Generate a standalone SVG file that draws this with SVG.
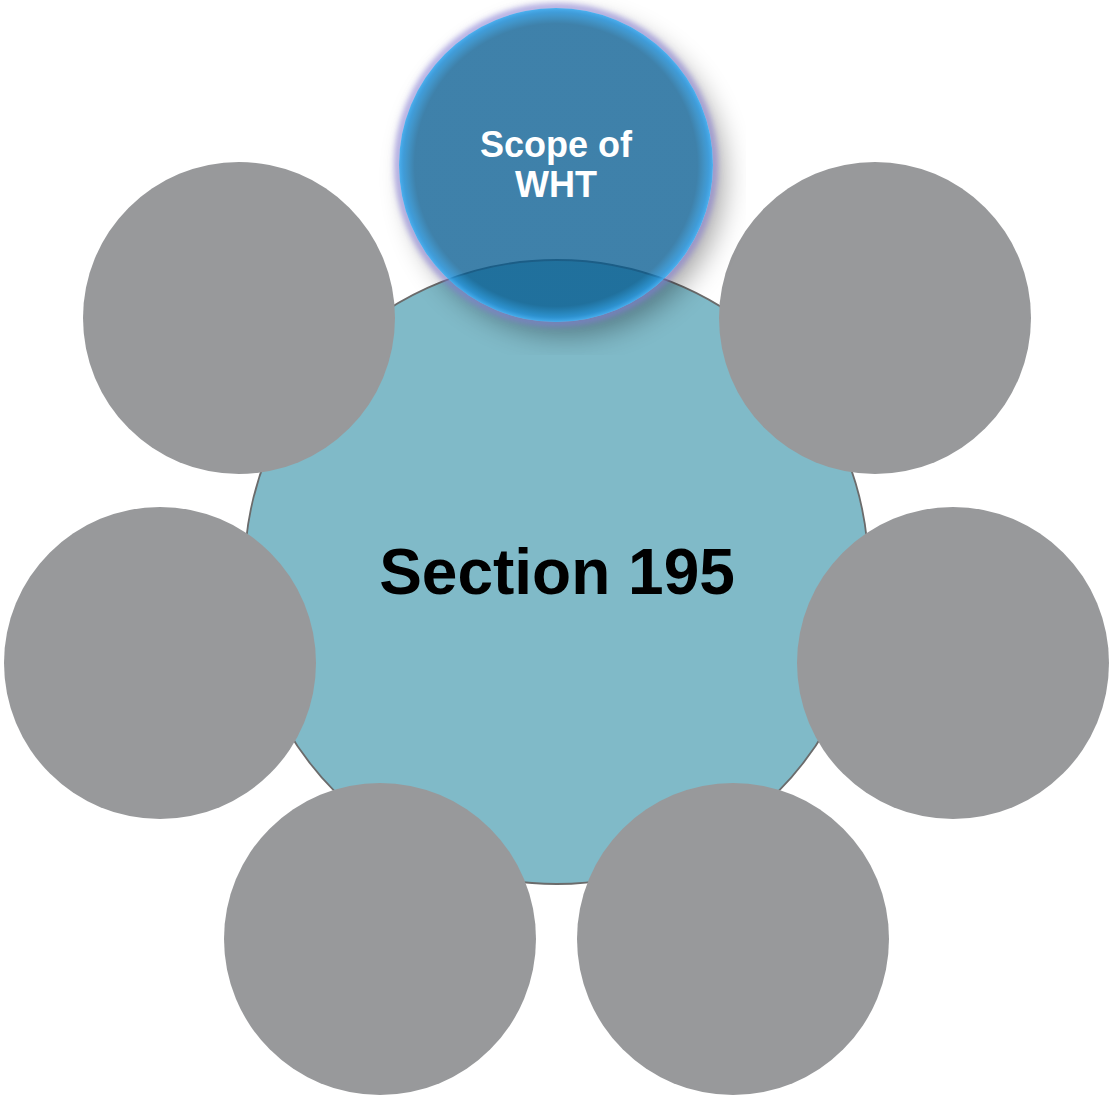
<svg xmlns="http://www.w3.org/2000/svg" width="1115" height="1097" viewBox="0 0 1115 1097">
  <style>
    .sat { fill: #98999b; }
    .lbl { font-family: "Liberation Sans", Arial, sans-serif; font-weight: bold; text-anchor: middle; }
  </style>
  <defs>
    <radialGradient id="blueFill" cx="0.5" cy="0.5" r="0.5">
      <stop offset="0" stop-color="#02598f" stop-opacity="0.76"/>
      <stop offset="0.9" stop-color="#02598f" stop-opacity="0.76"/>
      <stop offset="0.97" stop-color="#1a8ad0" stop-opacity="0.82"/>
      <stop offset="1" stop-color="#3fb0f0" stop-opacity="0.9"/>
    </radialGradient>
    <filter id="shadow" x="-30%" y="-30%" width="170%" height="170%">
      <feGaussianBlur in="SourceAlpha" stdDeviation="14"/>
      <feOffset dx="10" dy="12" result="b"/>
      <feComponentTransfer><feFuncA type="linear" slope="0.35"/></feComponentTransfer>
    </filter>
    <filter id="glow" x="-20%" y="-20%" width="140%" height="140%">
      <feGaussianBlur stdDeviation="3"/>
    </filter>
    <mask id="outside">
      <rect x="0" y="0" width="1115" height="1097" fill="#fff"/>
      <circle cx="556" cy="165" r="157" fill="#000"/>
    </mask>
  </defs>

  <g id="center">
    <circle cx="556.5" cy="572" r="312" fill="#80bac8" stroke="#6b6b6b" stroke-width="1.8"/>
    <text class="lbl" x="557" y="594" font-size="64" fill="#000">Section 195</text>
  </g>

  <g id="sat-top-left"><circle class="sat" cx="239" cy="318" r="156"/></g>
  <g id="sat-top-right"><circle class="sat" cx="875" cy="318" r="156"/></g>
  <g id="sat-mid-left"><circle class="sat" cx="160" cy="663" r="156"/></g>
  <g id="sat-mid-right"><circle class="sat" cx="953" cy="663" r="156"/></g>
  <g id="sat-bottom-left"><circle class="sat" cx="380" cy="939" r="156"/></g>
  <g id="sat-bottom-right"><circle class="sat" cx="733" cy="939" r="156"/></g>

  <g id="scope">
    <g mask="url(#outside)">
      <circle cx="556" cy="165" r="158" fill="#000" filter="url(#shadow)"/>
    </g>
    <circle cx="556" cy="165" r="158" fill="none" stroke="#8a80d8" stroke-width="6" stroke-opacity="0.8" filter="url(#glow)"/>
    <circle cx="556" cy="165" r="157" fill="url(#blueFill)"/>
    <text class="lbl" x="556" y="157" font-size="36" fill="#fff">Scope of</text>
    <text class="lbl" x="556" y="197" font-size="36" fill="#fff">WHT</text>
  </g>

  <g id="connectors"></g>
</svg>
